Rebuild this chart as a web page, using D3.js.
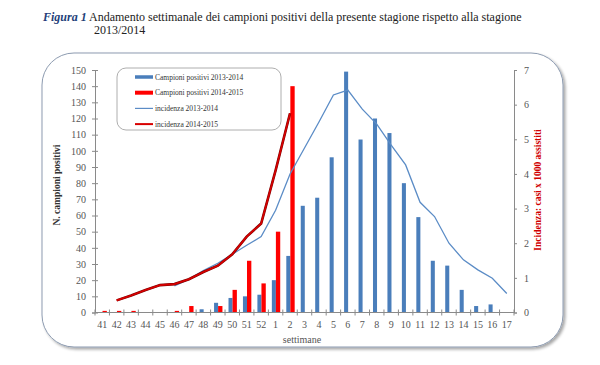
<!DOCTYPE html>
<html><head><meta charset="utf-8">
<script src="https://cdn.jsdelivr.net/npm/d3@7"></script>
<style>body{margin:0;background:#fff}svg{display:block}</style>
</head><body>
<svg id="c" width="600" height="365"></svg>
<script>
const weeks = ["41","42","43","44","45","46","47","48","49","50","51","52","1","2","3","4","5","6","7","8","9","10","11","12","13","14","15","16","17"];
const pos1314 = [0,0,0,0,0,0,0,2,6,9,10,11,20,35,66,71,96,149,107,120,111,80,59,32,29,14,4,5,0];
const pos1415 = [1,1,1,0,0,1,4,0,4,14,32,18,50,140,null,null,null,null,null,null,null,null,null,null,null,null,null,null,null];
const inc1314 = [null,null,null,null,null,0.77,0.96,1.21,1.42,1.68,1.94,2.19,2.95,4.0,4.75,5.5,6.28,6.42,5.87,5.44,4.83,4.26,3.18,2.77,2.0,1.52,1.23,0.99,0.55];
const inc1415 = [null,0.35,0.49,0.65,0.79,0.82,0.96,1.17,1.35,1.68,2.19,2.57,4.1,5.75,null,null,null,null,null,null,null,null,null,null,null,null,null,null,null];
const leftTicks = [0,10,20,30,40,50,60,70,80,90,100,110,120,130,140,150];
const rightTicks = [0,1,2,3,4,5,6,7];
const legendItems = ["Campioni positivi 2013-2014","Campioni positivi 2014-2015","incidenza 2013-2014","incidenza 2014-2015"];

const svg = d3.select("#c");
const serif = "'Times New Roman','Liberation Serif','DejaVu Serif',serif";
const BLUE = "#4a7ebb", RED = "#ff0000", LBLUE = "#5b8cc6", LRED = "#d80000";

// title
const t = svg.append("text").attr("x",43).attr("y",21).attr("font-family",serif).attr("font-size",12).attr("fill","#222");
t.append("tspan").attr("font-weight","bold").attr("font-style","italic").attr("fill","#1f3f7a").text("Figura 1");
t.append("tspan").text(" Andamento settimanale dei campioni positivi della presente stagione rispetto alla stagione");
svg.append("text").attr("x",94).attr("y",34).attr("font-family",serif).attr("font-size",12).attr("fill","#222").text("2013/2014");

// frame
const defs = svg.append("defs");
const f = defs.append("filter").attr("id","sh").attr("x","-5%").attr("y","-5%").attr("width","110%").attr("height","110%");
f.append("feGaussianBlur").attr("in","SourceAlpha").attr("stdDeviation",1.5);
f.append("feOffset").attr("dx",1.5).attr("dy",1.5).attr("result","b");
f.append("feComponentTransfer").append("feFuncA").attr("type","linear").attr("slope",0.35);
const m = f.append("feMerge"); m.append("feMergeNode"); m.append("feMergeNode").attr("in","SourceGraphic");
svg.append("rect").attr("x",42).attr("y",53).attr("width",521).attr("height",294).attr("rx",32)
  .attr("fill","#fff").attr("stroke","#8d9bb0").attr("stroke-width",1).attr("filter","url(#sh)");

const L = 95, R = 514, T = 70, B = 312.5;
const x = d3.scaleBand().domain(weeks).range([L,R]).padding(0);
const y = d3.scaleLinear().domain([0,150]).range([B,T]);
const yR = d3.scaleLinear().domain([0,7]).range([B,T]);
const bw = x.bandwidth();

// bars
const bars = svg.append("g");
bars.selectAll(".b1").data(weeks.map((w,i)=>({w,v:pos1314[i]})).filter(d=>d.v>0)).join("rect")
  .attr("x",d=>x(d.w)+bw*0.24).attr("width",bw*0.28).attr("y",d=>y(d.v)).attr("height",d=>B-y(d.v)).attr("fill",BLUE);
bars.selectAll(".b2").data(weeks.map((w,i)=>({w,v:pos1415[i]})).filter(d=>d.v>0)).join("rect")
  .attr("x",d=>x(d.w)+bw*0.52).attr("width",bw*0.3).attr("y",d=>y(d.v)).attr("height",d=>B-y(d.v)).attr("fill",RED);

// lines
const lineGen = d3.line().defined(d=>d.v!=null).x(d=>x(d.w)+bw/2).y(d=>yR(d.v));
svg.append("path").datum(weeks.map((w,i)=>({w,v:inc1314[i]}))).attr("d",lineGen)
  .attr("fill","none").attr("stroke",LBLUE).attr("stroke-width",1.3);
const d15 = weeks.map((w,i)=>({w,v:inc1415[i]}));
svg.append("path").datum(d15).attr("d",lineGen).attr("fill","none").attr("stroke","#7a0000").attr("stroke-width",2.6);
svg.append("path").datum(d15).attr("d",lineGen).attr("fill","none").attr("stroke",LRED).attr("stroke-width",1.6);

// axes
const axCol = "#8a8a8a", txtCol = "#555";
const gl = svg.append("g").attr("transform",`translate(${L},0)`)
  .call(d3.axisLeft(y).tickValues(leftTicks).tickSize(3).tickPadding(6));
gl.selectAll(".tick line").attr("x1",3).attr("x2",-3);
const gr = svg.append("g").attr("transform",`translate(${R},0)`)
  .call(d3.axisRight(yR).tickValues(rightTicks).tickFormat(d3.format("d")).tickSize(3).tickPadding(7));
const gx = svg.append("g").attr("transform",`translate(0,${B})`)
  .call(d3.axisBottom(x).tickSize(0).tickPadding(8));
gx.select(".domain").attr("d",`M${L},0H${R}`);
gx.selectAll(".bt").data(weeks.map(w=>x(w)).concat([R])).join("line")
  .attr("x1",d=>d).attr("x2",d=>d).attr("y1",-3).attr("y2",3);
[gl,gr,gx].forEach(g=>{
  g.attr("font-family",serif).attr("font-size",10);
  g.selectAll("path.domain").attr("stroke",axCol);
  g.selectAll("line").attr("stroke",axCol);
  g.selectAll("text").attr("font-family",serif).attr("font-size",10).attr("fill",txtCol);
});

// axis titles
svg.append("text").attr("transform","translate(60,185) rotate(-90)").attr("text-anchor","middle")
  .attr("font-family",serif).attr("font-size",9.5).attr("font-weight","bold").attr("fill","#333").text("N. campioni positivi");
svg.append("text").attr("transform","translate(541,190) rotate(-90)").attr("text-anchor","middle")
  .attr("font-family",serif).attr("font-size",9.5).attr("font-weight","bold").attr("fill","#d00000").text("Incidenza: casi x 1000 assistiti");
svg.append("text").attr("x",302).attr("y",343).attr("text-anchor","middle")
  .attr("font-family",serif).attr("font-size",10).attr("fill",txtCol).text("settimane");

// legend
const lg = svg.append("g");
lg.append("rect").attr("x",117).attr("y",68).attr("width",164).attr("height",62).attr("rx",9)
  .attr("fill","#fff").attr("stroke","#999").attr("stroke-width",0.8);
const styles = [{c:BLUE,w:3.5},{c:RED,w:4},{c:LBLUE,w:1.2},{c:LRED,w:2}];
legendItems.forEach((s,i)=>{
  const yy = 77 + i*15.7;
  lg.append("line").attr("x1",135).attr("x2",153).attr("y1",yy).attr("y2",yy)
    .attr("stroke",styles[i].c).attr("stroke-width",styles[i].w);
  lg.append("text").attr("x",155).attr("y",yy+2.7).attr("font-family",serif).attr("font-size",7.5).attr("fill","#333").text(s);
});
</script>
</body></html>
